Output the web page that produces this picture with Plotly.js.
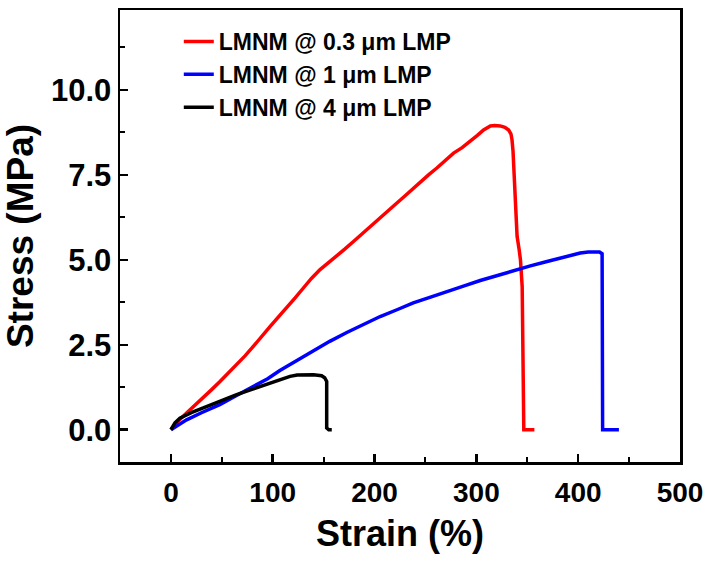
<!DOCTYPE html>
<html>
<head>
<meta charset="utf-8">
<script src="https://cdn.plot.ly/plotly-3.0.1.min.js"></script>
<style>body{margin:0;background:#fff}#chart{width:710px;height:563px}</style>
</head>
<body>
<div id="chart"></div>
<script>
// Series names
const seriesNames = ["LMNM @ 0.3 μm LMP", "LMNM @ 1 μm LMP", "LMNM @ 4 μm LMP"];

// 0.3 μm LMP (red)
const strainRed = [0, 7, 15.4, 23, 31.8, 40, 48.2, 56, 64.6, 73, 80.9, 89, 97.3, 105, 113.7, 122, 130.1, 138, 146.5, 155, 162.9, 171, 179.3, 187, 195.7, 204, 212, 220, 228.4, 237, 244.8, 253, 261.2, 270, 277.6, 286, 294, 301, 307.1, 311, 313.7, 318, 323.5, 328, 331.7, 334, 335, 336, 336.7, 338.5, 340, 342, 343.3, 345, 346, 346.6, 352, 357];
const stressRed = [0, 0.25, 0.49, 0.7, 0.93, 1.18, 1.42, 1.66, 1.91, 2.18, 2.45, 2.75, 3.03, 3.3, 3.58, 3.88, 4.17, 4.45, 4.71, 4.92, 5.1, 5.32, 5.54, 5.75, 5.98, 6.2, 6.41, 6.62, 6.84, 7.07, 7.3, 7.5, 7.7, 7.92, 8.14, 8.3, 8.48, 8.66, 8.82, 8.9, 8.94, 8.95, 8.94, 8.9, 8.82, 8.7, 8.53, 8.2, 7.65, 6.6, 5.69, 5.3, 5.0, 4.21, 2.0, 0, 0, 0];

// 1 μm LMP (blue)
const strainBlue = [0, 7, 15.4, 30, 48, 64, 81, 95, 107, 123, 140, 156, 172.7, 189, 205.5, 222, 238, 255, 271, 288, 303.8, 320, 336.6, 353, 369.4, 386, 402, 410, 417, 421, 423.5, 423.5, 424, 430, 440];
const stressBlue = [0, 0.13, 0.29, 0.5, 0.74, 1.0, 1.26, 1.5, 1.74, 2.03, 2.33, 2.6, 2.86, 3.1, 3.33, 3.53, 3.73, 3.9, 4.07, 4.23, 4.39, 4.54, 4.68, 4.82, 4.95, 5.08, 5.2, 5.23, 5.24, 5.23, 5.18, 2.5, 0, 0, 0];

// 4 μm LMP (black)
const strainBlack = [0, 4, 8.8, 20, 31.8, 48, 64.6, 81, 97.3, 108, 117, 124, 130, 140, 148, 151, 153, 153, 155, 158];
const stressBlack = [0, 0.2, 0.34, 0.5, 0.64, 0.84, 1.03, 1.2, 1.37, 1.48, 1.57, 1.61, 1.62, 1.62, 1.59, 1.53, 1.42, 0.05, 0, 0];

const colors = ["#ff0000", "#0000ff", "#000000"];
const xs = [strainRed, strainBlue, strainBlack];
const ys = [stressRed, stressBlue, stressBlack];

const traces = seriesNames.map((n, i) => ({
  x: xs[i], y: ys[i], name: n, type: "scatter", mode: "lines",
  line: {color: colors[i], width: 3.5, shape: "linear"},
  legendgroup: "g" + i
}));

const fontFam = "Liberation Sans, Arial, sans-serif";
const axisCommon = {
  showline: true, mirror: true, linecolor: "#000", linewidth: 2.5,
  ticks: "inside", ticklen: 8, tickwidth: 2.5, tickcolor: "#000",
  showgrid: false, zeroline: false
};

const layout = {
  width: 710, height: 563,
  margin: {l: 120, r: 30, t: 10, b: 101},
  paper_bgcolor: "#fff", plot_bgcolor: "#fff",
  showlegend: true,
  legend: {
    x: 0.105, y: 0.978, xanchor: "left", yanchor: "top",
    bgcolor: "rgba(0,0,0,0)", borderwidth: 0,
    traceorder: "grouped", tracegroupgap: 0,
    font: {family: fontFam, size: 23, color: "#000", weight: "bold"}
  },
  xaxis: Object.assign({}, axisCommon, {
    range: [-50, 500], tick0: 0, dtick: 100,
    ticklabelstandoff: 4,
    tickfont: {family: fontFam, size: 28, color: "#000", weight: "bold"},
    minor: {ticks: "inside", ticklen: 5, tickwidth: 2, tickcolor: "#000", dtick: 50},
    title: {text: "Strain (%)", font: {family: fontFam, size: 36, color: "#000", weight: "bold"}, standoff: 14}
  }),
  yaxis: Object.assign({}, axisCommon, {
    range: [-0.95, 12.35], tick0: 0, dtick: 2.5, tickformat: ".1f",
    tickfont: {family: fontFam, size: 31, color: "#000", weight: "bold"},
    minor: {ticks: "inside", ticklen: 5, tickwidth: 2, tickcolor: "#000", dtick: 1.25},
    title: {text: "Stress (MPa)", font: {family: fontFam, size: 37, color: "#000", weight: "bold"}, standoff: 10}
  })
};

Plotly.newPlot("chart", traces, layout, {displayModeBar: false, staticPlot: true});
</script>
</body>
</html>
